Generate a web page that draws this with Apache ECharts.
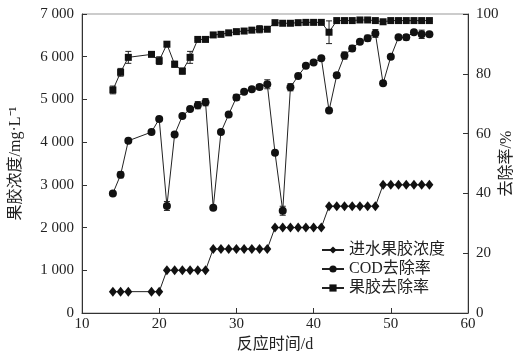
<!DOCTYPE html>
<html><head><meta charset="utf-8">
<script src="https://cdn.jsdelivr.net/npm/echarts@6/dist/echarts.min.js"></script>
<style>html,body{margin:0;padding:0;background:#fff}#c{width:519px;height:357px}</style>
</head><body><div id="c"></div>
<script>
var days = [14,15,16,19,20,21,22,23,24,25,26,27,28,29,30,31,32,33,34,35,36,37,38,39,40,41,42,43,44,45,46,47,48,49,50,51,52,53,54,55];
var influent = [500,500,500,500,500,1000,1000,1000,1000,1000,1000,1500,1500,1500,1500,1500,1500,1500,1500,2000,2000,2000,2000,2000,2000,2000,2500,2500,2500,2500,2500,2500,2500,3000,3000,3000,3000,3000,3000,3000];
var codRemoval = [40,46.2,57.6,60.5,64.9,35.8,59.7,65.9,68.2,69.5,70.5,35.2,60.5,66.4,72.1,74.0,74.8,75.6,76.5,53.6,34.2,75.5,79.3,82.7,83.8,85.2,67.7,79.5,86.1,88.5,90.7,91.9,93.5,76.8,85.7,92.2,92.2,93.9,93.2,93.2];
var codErr = [0.5,1.0,0.5,0.5,0.5,1.5,0.6,0.5,0.5,1.2,1.2,0.5,0.5,0.5,1.0,0.5,0.5,0.8,1.5,0.5,1.5,1.2,0.5,0.5,0.5,0.5,0.5,0.8,1.2,1.0,0.5,1.0,1.3,0.5,0.5,0.5,0.9,0.5,1.4,0.5];
var pectinRemoval = [74.6,80.5,85.5,86.5,84.4,89.9,83.2,80.9,85.5,91.5,91.5,93.0,93.2,93.7,94.1,94.3,94.6,94.9,94.9,97.1,96.9,96.9,97.1,97.2,97.2,97.2,93.9,97.8,97.8,97.8,98.0,98.0,97.8,97.4,97.8,97.8,97.8,97.8,97.8,97.8];
var pectinErr = [1.3,1.3,2.0,0.5,1.3,0.8,1.0,1.0,2.0,0.4,0.4,0.3,0.3,0.3,0.3,0.3,0.3,1.2,0.3,0.3,0.3,0.3,0.3,0.3,0.3,0.3,3.8,0.3,0.3,0.3,0.3,0.3,0.3,0.3,0.3,0.3,0.3,0.3,0.3,0.3];
var xTicks = [10,20,30,40,50,60];
var leftTicks = [0,1000,2000,3000,4000,5000,6000,7000];
var rightTicks = [0,20,40,60,80,100];
var names = ['进水果胶浓度','COD去除率','果胶去除率'];

function pairs(a){return days.map(function(d,i){return [d,a[i]];});}
function errData(a,e){return days.map(function(d,i){return [d,a[i]-e[i],a[i]+e[i]];});}
function errRender(params, api){
  var x=api.value(0), lo=api.value(1), hi=api.value(2);
  var p1=api.coord([x,lo]), p2=api.coord([x,hi]);
  var w=3;
  var st={stroke:'#222',lineWidth:1};
  return {type:'group',children:[
    {type:'line',shape:{x1:p1[0],y1:p1[1],x2:p2[0],y2:p2[1]},style:st},
    {type:'line',shape:{x1:p1[0]-w,y1:p1[1],x2:p1[0]+w,y2:p1[1]},style:st},
    {type:'line',shape:{x1:p2[0]-w,y1:p2[1],x2:p2[0]+w,y2:p2[1]},style:st}
  ]};
}
var font='"Liberation Serif","Times New Roman","Noto Sans CJK SC",serif';
var chart=echarts.init(document.getElementById('c'));
chart.setOption({
  animation:false,
  textStyle:{fontFamily:font,color:'#222'},
  grid:{left:82,right:51,top:14,bottom:44,show:true,borderColor:'#999',borderWidth:1,containLabel:false,outerBoundsMode:'none'},
  legend:{
    data:names, orient:'vertical', left:321, top:242, padding:0, itemWidth:22, itemHeight:9, itemGap:3,
    textStyle:{fontFamily:font,fontSize:16,color:'#222'}
  },
  xAxis:{type:'value',min:xTicks[0],max:xTicks[xTicks.length-1],interval:10,
    name:'反应时间/d',nameLocation:'middle',nameGap:23,nameTextStyle:{fontSize:16,color:'#222',fontFamily:font},
    axisLine:{lineStyle:{color:'#333'}},axisTick:{inside:true,length:5,lineStyle:{color:'#333'}},
    axisLabel:{color:'#222',fontSize:15,margin:4},splitLine:{show:false}},
  yAxis:[
    {type:'value',min:leftTicks[0],max:leftTicks[leftTicks.length-1],interval:1000,
     name:'果胶浓度/mg·L⁻¹',nameLocation:'middle',nameRotate:90,nameGap:58,nameTextStyle:{fontSize:16,color:'#222',fontFamily:font},
     axisLine:{show:true,lineStyle:{color:'#333'}},axisTick:{show:true,inside:true,length:5,lineStyle:{color:'#333'}},
     axisLabel:{color:'#222',fontSize:15,margin:8,formatter:function(v){return v>=1000?Math.floor(v/1000)+' '+String(v%1000).padStart(3,'0'):String(v);}},
     splitLine:{show:false}},
    {type:'value',min:rightTicks[0],max:rightTicks[rightTicks.length-1],interval:20,position:'right',
     name:'去除率/%',nameLocation:'middle',nameRotate:90,nameGap:31,nameMoveOverlap:false,nameTextStyle:{fontSize:16,color:'#222',fontFamily:font},
     axisLine:{show:true,lineStyle:{color:'#333'}},axisTick:{show:true,inside:true,length:5,lineStyle:{color:'#333'}},
     axisLabel:{color:'#222',fontSize:15,margin:8},splitLine:{show:false}}
  ],
  series:[
    {name:names[0],type:'line',yAxisIndex:0,data:pairs(influent),symbol:'diamond',symbolSize:[8,10],
     itemStyle:{color:'#111'},lineStyle:{color:'#222',width:1}},
    {name:names[1],type:'line',yAxisIndex:1,data:pairs(codRemoval),symbol:'circle',symbolSize:8,
     itemStyle:{color:'#111'},lineStyle:{color:'#222',width:1}},
    {name:names[2],type:'line',yAxisIndex:1,data:pairs(pectinRemoval),symbol:'rect',symbolSize:7,
     itemStyle:{color:'#111'},lineStyle:{color:'#222',width:1}},
    {type:'custom',yAxisIndex:1,data:errData(codRemoval,codErr),renderItem:errRender,z:1,silent:true},
    {type:'custom',yAxisIndex:1,data:errData(pectinRemoval,pectinErr),renderItem:errRender,z:1,silent:true}
  ]
});
</script></body></html>
